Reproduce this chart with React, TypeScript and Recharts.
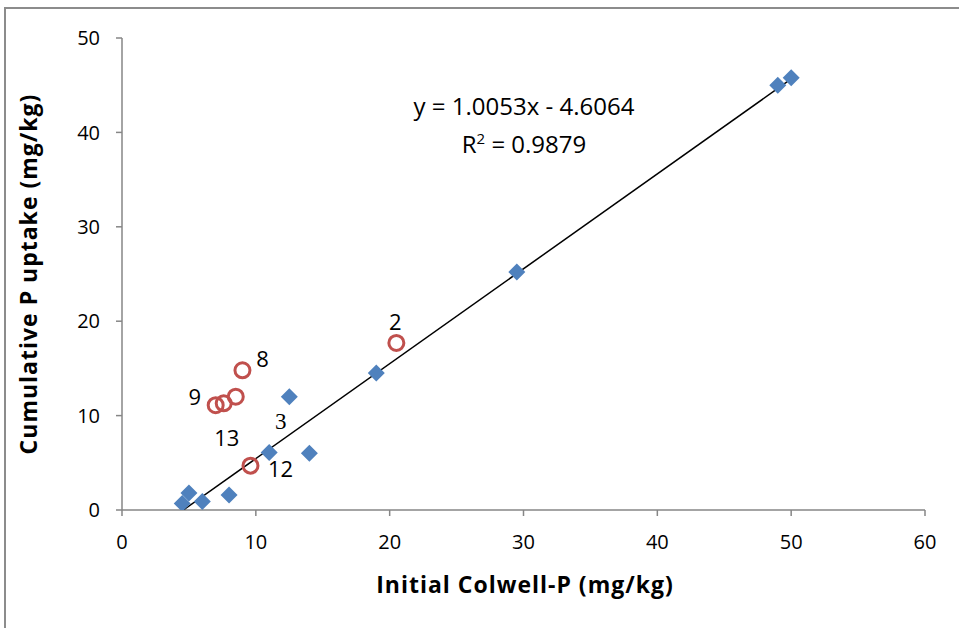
import React from "react";
import {
  ScatterChart,
  Scatter,
  XAxis,
  YAxis,
  LabelList,
} from "recharts";

// Blue diamonds
const blueX = [4.5, 5.0, 6.0, 8.0, 11.0, 12.5, 14.0, 19.0, 29.5, 49.0, 50.0];
const blueY = [0.7, 1.8, 0.9, 1.6, 6.1, 12.0, 6.0, 14.5, 25.2, 45.0, 45.8];

// Red open circles with their sample numbers
const redX = [20.5, 9.0, 8.5, 7.6, 7.0, 9.6];
const redY = [17.7, 14.8, 12.0, 11.3, 11.1, 4.7];
const redTags = ["2", "8", "3", "13", "9", "12"];

// Linear fit
const trendSlope = 1.0053;
const trendIntercept = -4.6064;
const trendXEnd = 50;

const xTicks = [0, 10, 20, 30, 40, 50, 60];
const yTicks = [0, 10, 20, 30, 40, 50];

const FONT = "'Open Sans', 'Liberation Sans', sans-serif";
const AXIS_GREY = "#868686";
const BLUE = "#4F81BD";
const RED = "#C0504D";

const blueData = blueX.map((x, i) => ({ x, y: blueY[i] }));
const redData = redX.map((x, i) => ({ x, y: redY[i], tag: redTags[i] }));
const trendXStart = -trendIntercept / trendSlope;
const trendData = [trendXStart, trendXEnd].map((x) => ({
  x,
  y: trendSlope * x + trendIntercept,
}));

// where each sample number sits relative to its circle
const tagOffset: Record<string, [number, number]> = {
  "2": [-1, -22],
  "8": [20, -12],
  "3": [45, 25],
  "13": [3, 34],
  "9": [-21, -9],
  "12": [30, 2],
};

const Diamond = (props: any) => {
  const { cx, cy } = props;
  const r = 8.5;
  return (
    <path
      d={`M${cx},${cy - r}L${cx + r},${cy}L${cx},${cy + r}L${cx - r},${cy}Z`}
      fill={BLUE}
    />
  );
};

const Ring = (props: any) => {
  const { cx, cy } = props;
  return <circle cx={cx} cy={cy} r={7.5} fill="none" stroke={RED} strokeWidth={3} />;
};

const NoDot = () => null;

const TagLabel = (props: any) => {
  const { x, y, width, height, value } = props;
  const cx = x + (width || 0) / 2;
  const cy = y + (height || 0) / 2;
  const [dx, dy] = tagOffset[value] || [0, 0];
  const serif = value === "3";
  return (
    <text
      x={cx + dx}
      y={cy + dy}
      textAnchor="middle"
      dominantBaseline="central"
      fontFamily={serif ? "'Liberation Serif', serif" : FONT}
      fontSize={serif ? 23 : 22}
      fill="#000"
    >
      {value}
    </text>
  );
};

export default function App() {
  return (
    <div
      style={{
        position: "absolute",
        left: 0,
        top: 0,
        width: 959,
        height: 628,
        background: "#fff",
        fontFamily: FONT,
      }}
    >
      <div
        style={{
          position: "absolute",
          left: 4,
          top: 7,
          right: 0,
          bottom: 0,
          borderTop: "2px solid #8c8c8c",
          borderLeft: "2px solid #8c8c8c",
        }}
      />
      <ScatterChart
        width={959}
        height={628}
        margin={{ top: 38, right: 34, left: 0, bottom: 0 }}
        style={{ position: "absolute", left: 0, top: 0 }}
      >
        <XAxis
          type="number"
          dataKey="x"
          domain={[0, 60]}
          ticks={xTicks}
          height={118}
          tickSize={6}
          tickMargin={19}
          axisLine={{ stroke: AXIS_GREY, strokeWidth: 1.5 }}
          tickLine={{ stroke: AXIS_GREY, strokeWidth: 1.5 }}
          tick={{ fill: "#000", fontSize: 20, fontFamily: FONT }}
          allowDataOverflow
        />
        <YAxis
          type="number"
          dataKey="y"
          domain={[0, 50]}
          ticks={yTicks}
          width={122}
          tickSize={6}
          tickMargin={16}
          axisLine={{ stroke: AXIS_GREY, strokeWidth: 1.5 }}
          tickLine={{ stroke: AXIS_GREY, strokeWidth: 1.5 }}
          tick={{ fill: "#000", fontSize: 20, fontFamily: FONT }}
          allowDataOverflow
        />
        <Scatter
          data={trendData}
          line={{ stroke: "#000", strokeWidth: 1.5 }}
          shape={NoDot}
          isAnimationActive={false}
        />
        <Scatter data={blueData} shape={Diamond} isAnimationActive={false} />
        <Scatter data={redData} shape={Ring} isAnimationActive={false}>
          <LabelList dataKey="tag" content={TagLabel} />
        </Scatter>
      </ScatterChart>
      <div
        style={{
          position: "absolute",
          left: 374,
          width: 300,
          top: 87,
          textAlign: "center",
          fontSize: 24,
          lineHeight: "38px",
          color: "#000",
        }}
      >
        <div>y = 1.0053x - 4.6064</div>
        <div>
          R<sup style={{ fontSize: 15, verticalAlign: "9px", lineHeight: 0 }}>2</sup> = 0.9879
        </div>
      </div>
      <div
        style={{
          position: "absolute",
          left: 225,
          width: 600,
          top: 568,
          textAlign: "center",
          fontSize: 23,
          fontWeight: 700,
          letterSpacing: 1,
          color: "#000",
        }}
      >
        Initial Colwell-P (mg/kg)
      </div>
      <div
        style={{
          position: "absolute",
          left: 28 - 300,
          width: 600,
          top: 274 - 16,
          textAlign: "center",
          fontSize: 23,
          fontWeight: 700,
          letterSpacing: 1,
          color: "#000",
          transform: "rotate(-90deg)",
          transformOrigin: "center",
        }}
      >
        Cumulative P uptake (mg/kg)
      </div>
    </div>
  );
}
